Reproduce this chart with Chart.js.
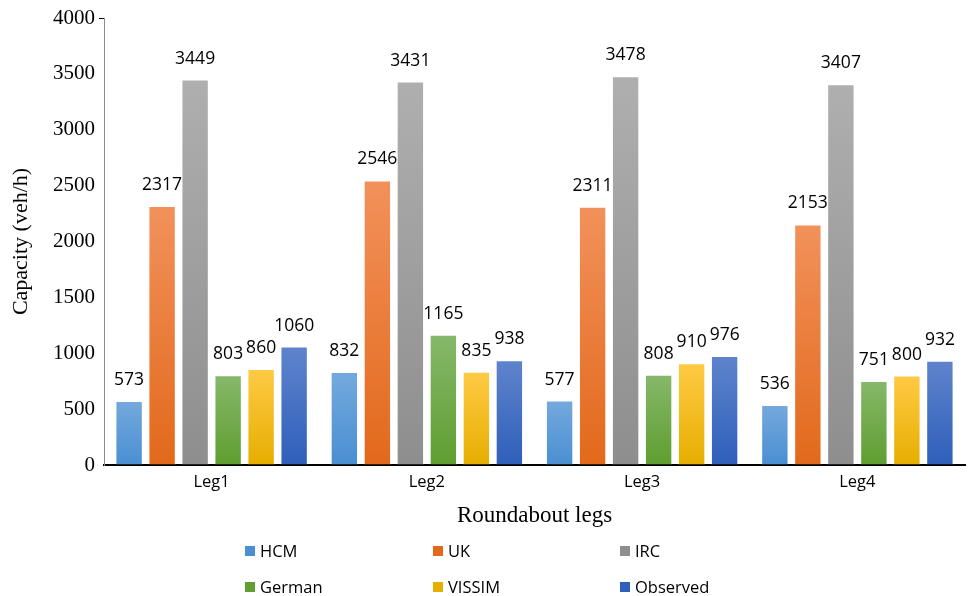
<!DOCTYPE html>
<html>
<head>
<meta charset="utf-8">
<script src="https://cdn.jsdelivr.net/npm/chart.js@4.4.1/dist/chart.umd.min.js"></script>
<style>
  html, body { margin: 0; padding: 0; background: #fff; }
  #wrap { width: 969px; height: 596px; }
</style>
</head>
<body>
<div id="wrap"><canvas id="barChart" width="969" height="596"></canvas></div>
<script>
// capacity per roundabout leg, one array per method
var legs = ["Leg1", "Leg2", "Leg3", "Leg4"];
var hcm = [573, 832, 577, 536];
var uk = [2317, 2546, 2311, 2153];
var irc = [3449, 3431, 3478, 3407];
var german = [803, 1165, 808, 751];
var vissim = [860, 835, 910, 800];
var observed = [1060, 938, 976, 932];
var yTicks = [0, 500, 1000, 1500, 2000, 2500, 3000, 3500, 4000];

// top / bottom colours for the vertical bar gradients
var shades = {
  HCM: ["#74a9dd", "#4a8fd2"],
  UK: ["#f2915b", "#e2691b"],
  IRC: ["#afafaf", "#8e8e8e"],
  German: ["#86b86a", "#5f9e30"],
  VISSIM: ["#ffca45", "#e6ae00"],
  Observed: ["#5f84cc", "#2e5fba"]
};

// gradient runs from the top of each bar down to the axis
function grad(name) {
  return function (ctx) {
    var chart = ctx.chart;
    var y = chart.scales && chart.scales.y;
    if (!chart.chartArea || !y || ctx.raw == null) return shades[name][0];
    var top = y.getPixelForValue(ctx.raw);
    var bottom = y.getPixelForValue(0);
    if (!isFinite(top) || bottom - top < 1) return shades[name][0];
    var g = chart.ctx.createLinearGradient(0, top, 0, bottom);
    g.addColorStop(0, shades[name][0]);
    g.addColorStop(1, shades[name][1]);
    return g;
  };
}

function makeSet(name, values) {
  return {
    label: name,
    data: values,
    backgroundColor: grad(name),
    legendColor: shades[name][1],
    borderColor: "rgba(255,255,255,0.6)",
    borderWidth: 1,
    borderSkipped: "bottom",
    categoryPercentage: 0.92,
    barPercentage: 0.83
  };
}

// numbers above every bar
var valueLabels = {
  id: "valueLabels",
  afterDatasetsDraw: function (chart) {
    var c = chart.ctx;
    c.save();
    c.font = "17.5px 'Open Sans', sans-serif";
    c.fillStyle = "#000";
    c.textAlign = "center";
    c.textBaseline = "middle";
    chart.data.datasets.forEach(function (ds, i) {
      chart.getDatasetMeta(i).data.forEach(function (bar, j) {
        c.fillText(String(ds.data[j]), bar.x, bar.y - 21);
      });
    });
    c.restore();
  }
};

// legend laid out as a 3 x 2 grid under the axis title
var gridLegend = {
  id: "gridLegend",
  afterDraw: function (chart) {
    var c = chart.ctx;
    var cols = [245, 433, 620];
    var rows = [551, 587];
    c.save();
    c.font = "16.5px 'Open Sans', sans-serif";
    c.textBaseline = "middle";
    chart.data.datasets.forEach(function (ds, i) {
      var x = cols[i % 3];
      var y = rows[Math.floor(i / 3)];
      c.fillStyle = ds.legendColor;
      c.fillRect(x, y - 5, 10, 10);
      c.fillStyle = "#000";
      c.fillText(ds.label, x + 15, y + 1);
    });
    c.restore();
  }
};

var ctxB = document.getElementById("barChart").getContext("2d");
var myBarChart = new Chart(ctxB, {
  type: "bar",
  data: {
    labels: legs,
    datasets: [
      makeSet("HCM", hcm),
      makeSet("UK", uk),
      makeSet("IRC", irc),
      makeSet("German", german),
      makeSet("VISSIM", vissim),
      makeSet("Observed", observed)
    ]
  },
  options: {
    responsive: false,
    animation: false,
    layout: { padding: { left: 0, top: 18, right: 4, bottom: 66 } },
    plugins: {
      legend: { display: false },
      tooltip: { enabled: false }
    },
    scales: {
      x: {
        grid: { display: false, drawTicks: false },
        border: { color: "#000", width: 2 },
        ticks: {
          color: "#000",
          padding: 7,
          font: { family: "'Open Sans', sans-serif", size: 16.5 }
        },
        title: {
          display: true,
          text: "Roundabout legs",
          color: "#000",
          padding: { top: 8, bottom: 0 },
          font: { family: "'Liberation Serif', serif", size: 23 }
        },
        afterFit: function (scale) { scale.height = 65; }
      },
      y: {
        min: 0,
        max: 4000,
        afterBuildTicks: function (scale) {
          scale.ticks = yTicks.map(function (v) { return { value: v }; });
        },
        grid: {
          drawOnChartArea: false,
          tickLength: 5,
          color: function (ctx) {
            return ctx.tick && ctx.tick.value === 4000 ? "#000" : "rgba(0,0,0,0)";
          }
        },
        border: { color: "#8c8c8c", width: 1 },
        ticks: {
          color: "#000",
          padding: 4,
          font: { family: "'Liberation Serif', serif", size: 21 },
          callback: function (v) { return String(v); }
        },
        title: {
          display: true,
          text: "Capacity (veh/h)",
          color: "#000",
          padding: { top: 8, bottom: 2 },
          font: { family: "'Liberation Serif', serif", size: 22 }
        },
        afterFit: function (scale) { scale.width = 104; }
      }
    }
  },
  plugins: [valueLabels, gridLegend]
});
</script>
</body>
</html>
